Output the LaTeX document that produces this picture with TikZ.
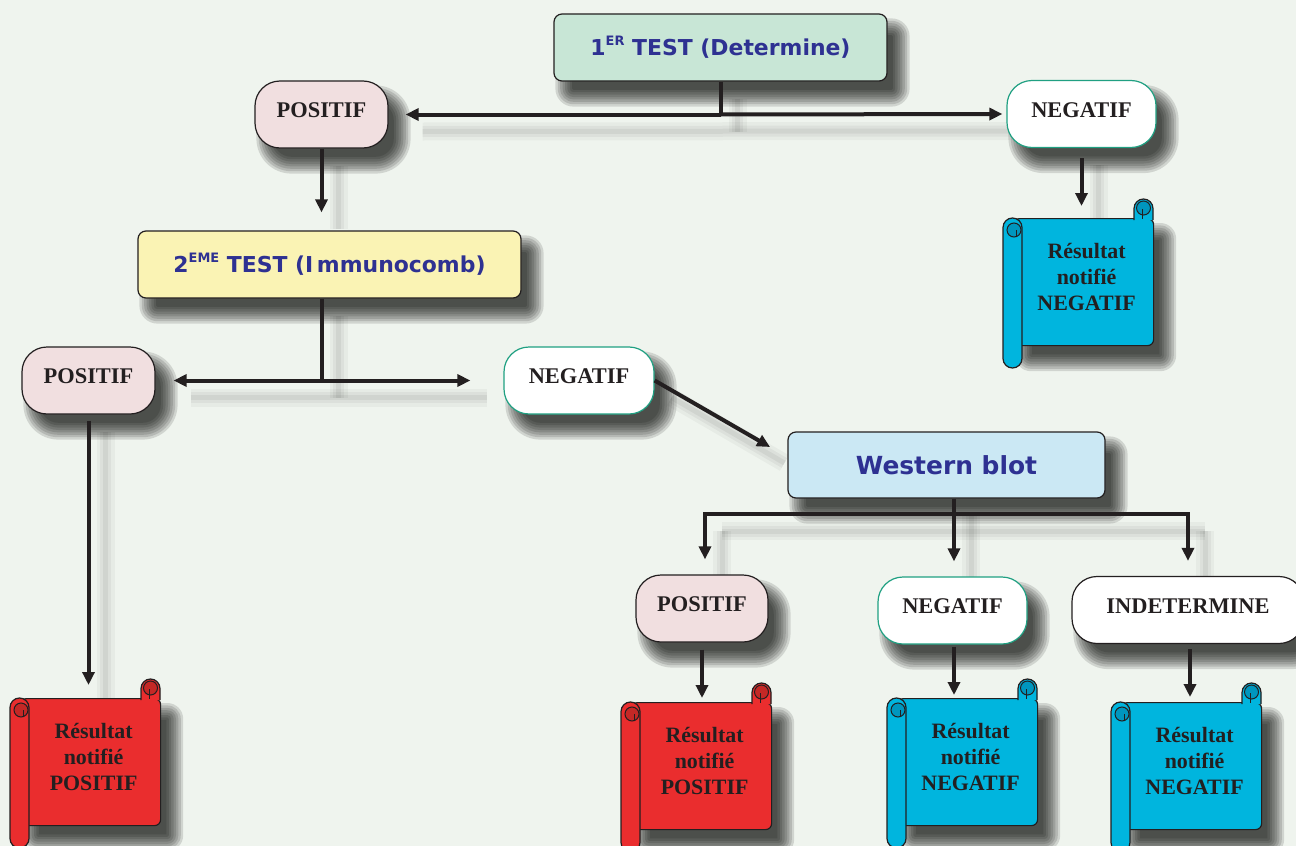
\documentclass[tikz,border=0pt]{standalone}
\usepackage{fontspec}
\setmainfont{Liberation Serif}
\newfontfamily\vsans{DejaVu Sans}
\usetikzlibrary{arrows.meta,calc}
\pgfdeclarelayer{back}
\pgfdeclarelayer{shade}
\pgfsetlayers{back,shade,main}

\definecolor{bgc}{RGB}{239,244,238}
\definecolor{mint}{RGB}{200,230,214}
\definecolor{lyellow}{RGB}{250,243,180}
\definecolor{lblue}{RGB}{203,232,244}
\definecolor{lpink}{RGB}{241,223,224}
\definecolor{tealb}{RGB}{32,160,130}
\definecolor{sred}{RGB}{234,45,46}
\definecolor{sredd}{RGB}{196,40,38}
\definecolor{sblue}{RGB}{0,181,222}
\definecolor{sblued}{RGB}{0,150,190}
\definecolor{tblue}{RGB}{46,49,146}
\definecolor{ink}{RGB}{35,31,32}

\newcommand\supx[1]{\raisebox{0.45em}{\fontsize{13}{13}\selectfont #1}}

\tikzset{
  box/.style={draw=ink, line width=1.2bp, rounded corners=8bp, inner sep=0pt,
    font=\vsans\bfseries\fontsize{22}{26}\selectfont, text=tblue},
  pill/.style={draw=ink, line width=1.2bp, rounded corners=25bp, inner sep=0pt,
    minimum height=67bp, text depth=8bp,
    font=\bfseries\fontsize{22.5}{27}\selectfont, text=ink},
  negpill/.style={pill, fill=white, draw=tealb},
  pospill/.style={pill, fill=lpink},
  scrollbody/.style={draw=ink, line width=1.2bp, rounded corners=6bp,
    minimum width=140bp, minimum height=127bp, inner sep=0pt},
  scrolltext/.style={align=center, text=ink, inner sep=0pt,
    font=\bfseries\fontsize{22}{26}\selectfont},
  conn/.style={draw=ink, line width=4bp},
  arr/.style={conn, -{Triangle[length=13bp,width=12bp]}},
  cs1/.style={draw=black, line width=18bp, opacity=0.035},
  cs2/.style={draw=black, line width=11bp, opacity=0.045},
  cs3/.style={draw=black, line width=5bp, opacity=0.05},
}

% soft shadow drawn under a node, on the shade layer
\newcommand\mkshadow[2]{%
  \begin{pgfonlayer}{shade}
  \foreach \i in {0,...,7} {
    \pgfmathsetmacro\dd{10-2.4*\i}
    \pgfmathsetmacro\rr{max(#2+\dd,0.5)}
    \fill[black, opacity=0.13, rounded corners=\rr bp]
      ($(#1.south west)+(12-\dd,15+\dd)$) rectangle ($(#1.north east)+(12+\dd,15-\dd)$);
  }
  \end{pgfonlayer}}

\newcommand\myscroll[6]{%
  \node[scrollbody, fill=#4, anchor=north west] (#1) at (#2+10,#3) {};
  \mkshadow{#1}{6}
  \filldraw[fill=#4, draw=ink, line width=1.2bp, rounded corners=9.5bp] (#2,#3) rectangle (#2+19,#3+150);
  \filldraw[fill=#5, draw=ink, line width=1bp] (#2+11,#3+12) circle[radius=7bp];
  \draw[ink, line width=1bp] (#2+13,#3+12) -- (#2+13,#3+19);
  \filldraw[fill=#4, draw=ink, line width=1.2bp] (#2+131,#3+2) -- (#2+131,#3-9.5) arc[start angle=180,end angle=0,radius=9.5bp] -- (#2+150,#3+2);
  \filldraw[fill=#5, draw=ink, line width=1bp] (#2+140.5,#3-10) circle[radius=7bp];
  \draw[ink, line width=1bp] (#2+139,#3-9) -- (#2+139,#3+1);
  \node[scrolltext] (#1t) at ($(#1.center)+(3,-5.5)$) {#6};
}

\newcommand\cshadow[1]{%
  \draw[cs1] #1; \draw[cs2] #1; \draw[cs3] #1;}

\begin{document}
\begin{tikzpicture}[x=1bp,y=-1bp]
\begin{pgfonlayer}{back}
  \fill[bgc] (0,0) rectangle (1296,846);
\end{pgfonlayer}
\useasboundingbox (0,0) rectangle (1296,846);

% boxes
\node[box, fill=mint, minimum width=333bp, minimum height=67bp] (t1) at (720.5,47.5) {1\supx{ER} TEST (Determine)};
\node[pospill, minimum width=133bp] (p1) at (321.5,114.5) {POSITIF};
\node[negpill, minimum width=149bp] (n1) at (1081.5,114) {NEGATIF};
\node[box, fill=lyellow, minimum width=383bp, minimum height=67bp] (t2) at (329.5,264.5) {2\supx{EME} TEST (I\,mmunocomb)};
\node[pospill, minimum width=133bp] (p2) at (88.5,380.5) {POSITIF};
\node[negpill, minimum width=150bp] (n2) at (579,380.5) {NEGATIF};
\node[box, fill=lblue, minimum width=317bp, minimum height=66bp, font=\vsans\bfseries\fontsize{25}{30}\selectfont] (wb) at (946.5,465) {Western blot};
\node[pospill, minimum width=132bp] (p3) at (702,608.5) {POSITIF};
\node[negpill, minimum width=149bp] (n3) at (952.5,610.5) {NEGATIF};
\node[pill, fill=white, minimum width=232bp] (ind) at (1188,610) {INDETERMINE};

\mkshadow{t1}{8}
\mkshadow{t2}{8}
\mkshadow{wb}{8}
\mkshadow{p1}{25}
\mkshadow{n1}{25}
\mkshadow{p2}{25}
\mkshadow{n2}{25}
\mkshadow{p3}{25}
\mkshadow{n3}{25}
\mkshadow{ind}{25}

% scrolls
\myscroll{sA}{1003}{218}{sblue}{sblued}{Résultat\\notifié\\NEGATIF}
\myscroll{sB}{10}{698}{sred}{sredd}{Résultat\\notifié\\POSITIF}
\myscroll{sC}{621}{702}{sred}{sredd}{Résultat\\notifié\\POSITIF}
\myscroll{sD}{887}{698}{sblue}{sblued}{Résultat\\notifié\\NEGATIF}
\myscroll{sE}{1111}{702}{sblue}{sblued}{Résultat\\notifié\\NEGATIF}

% junctions
\coordinate (j1) at (t1.south |- p1.east);
\coordinate (j2) at (p1.south |- p2.east);
\coordinate (j3) at (954,514);

% connector shadows
\begin{pgfonlayer}{shade}
\begin{scope}[transform canvas={shift={(17bp,-17bp)}}]
  \cshadow{(t1.south) -- (j1)}
  \cshadow{([xshift=17bp]p1.east) -- ([xshift=-4bp]n1.west)}
  \cshadow{(p1.south) -- ([yshift=18bp]p1.south |- t2.north)}
  \cshadow{(j2 |- t2.south) -- (j2)}
  \cshadow{([xshift=18bp]p2.east) -- ([xshift=-33bp]n2.west)}
  \cshadow{(j3 |- wb.south) -- (j3)}
  \cshadow{([xshift=3bp]p3.north |- j3) -- (ind.north |- j3)}
  \cshadow{(j3) -- ([yshift=15bp]j3 |- n3.north)}
  \cshadow{([xshift=3bp]p3.north |- j3) -- ([xshift=3bp,yshift=15bp]p3.north)}
  \cshadow{(ind.north |- j3) -- ([yshift=15bp]ind.north)}
  \cshadow{(p2.south) -- (p2.south |- sB.north)}
  \cshadow{(n1.south) -- (n1.south |- sA.north)}
  \cshadow{(n2.east) -- ($(wb.west)+(-20,-19)$)}
\end{scope}
\end{pgfonlayer}

% connectors
\draw[conn] (t1.south) -- (j1);
\draw[arr, shorten >=17bp] (j1) -- (p1.east);
\draw[arr, shorten >=4bp] (j1) -- (n1.west);
\draw[arr, shorten >=18bp] (p1.south) -- (p1.south |- t2.north);
\draw[conn] (j2 |- t2.south) -- (j2);
\draw[arr, shorten >=18bp] (j2) -- (p2.east);
\draw[arr, shorten >=33bp] (j2) -- (n2.west);
\draw[arr, shorten >=20bp] (n2.east) -- ($(wb.west)+(0,-8)$);
\draw[conn] (j3 |- wb.south) -- (j3);
\draw[arr, shorten >=15bp] (j3) -| ([xshift=3bp]p3.north);
\draw[arr, shorten >=15bp] (j3) -| (ind.north);
\draw[arr, shorten >=15bp] (j3) -- (j3 |- n3.north);

\draw[arr, shorten <=10bp, shorten >=12bp] (n1.south) -- (n1.south |- sA.north);
\draw[arr, shorten <=6bp, shorten >=13bp] (p2.south) -- (p2.south |- sB.north);
\draw[arr, shorten <=7bp, shorten >=4bp] (p3.south) -- (p3.south |- sC.north);
\draw[arr, shorten <=2bp, shorten >=3bp] (j3 |- n3.south) -- (j3 |- sD.north);
\draw[arr, shorten <=5bp, shorten >=5bp] ([xshift=2bp]ind.south) -- ([xshift=2bp]ind.south |- sE.north);
\end{tikzpicture}
\end{document}
